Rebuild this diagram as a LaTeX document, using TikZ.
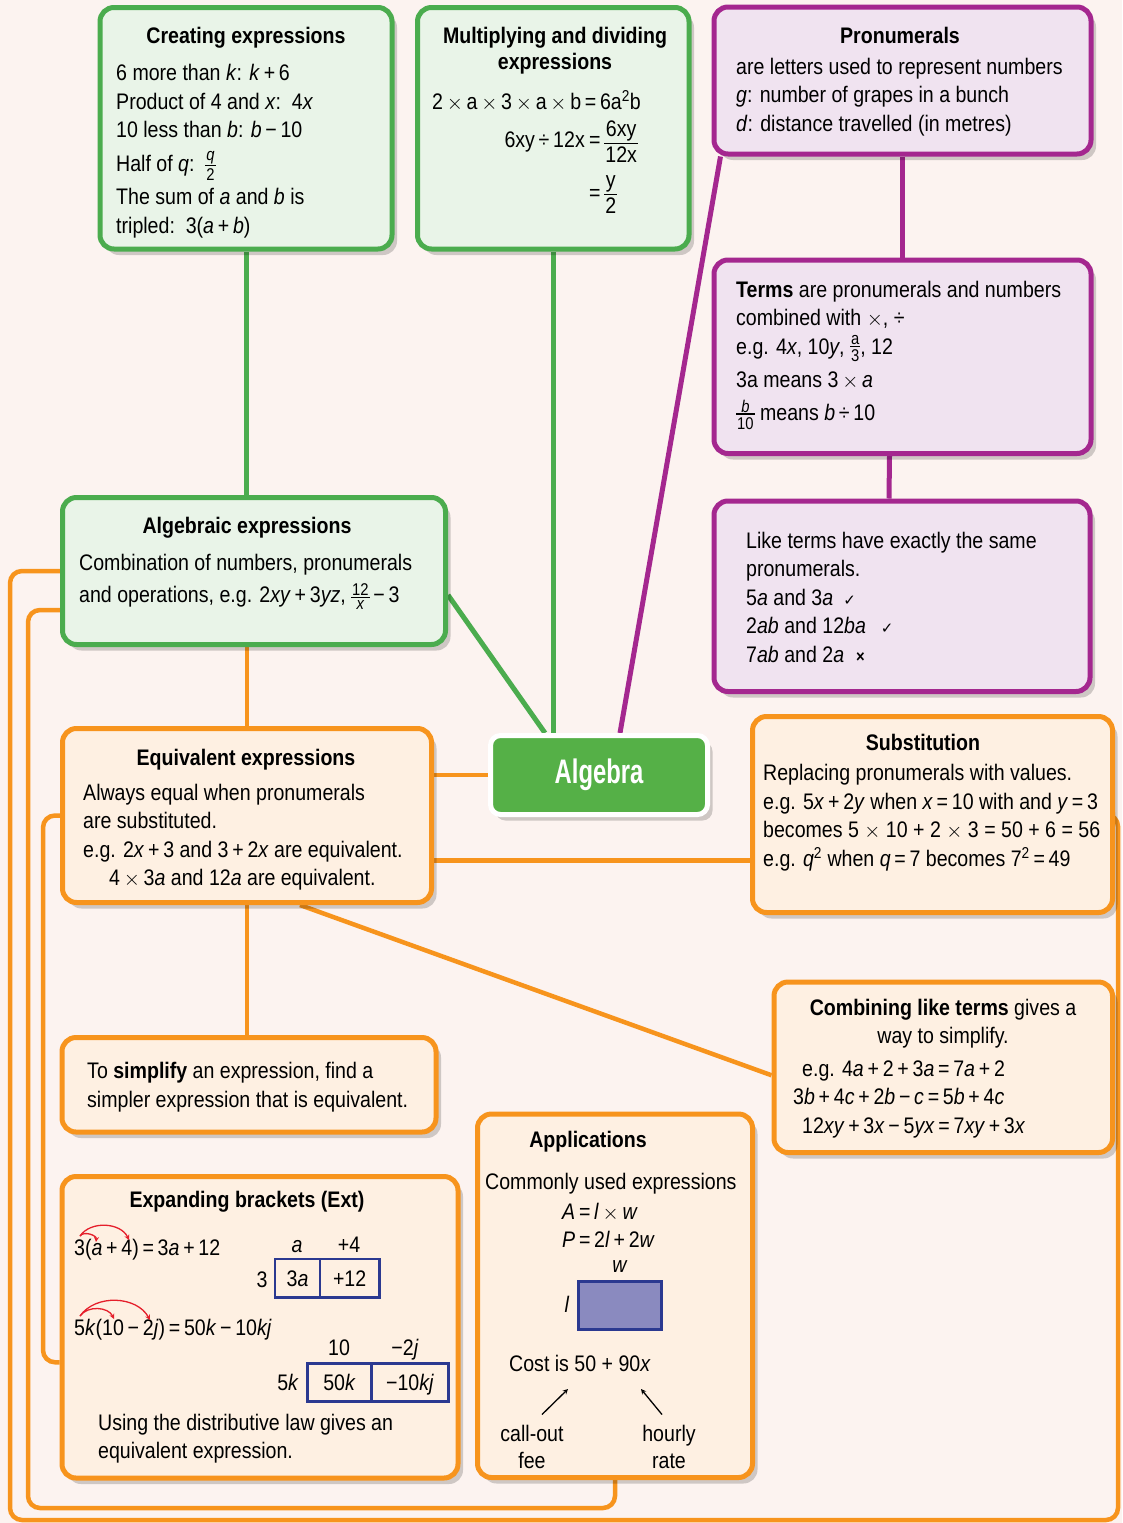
\documentclass[tikz,border=0pt]{standalone}
\usepackage{fontspec}
\setmainfont{Liberation Sans}[FakeStretch=0.87]
\newfontfamily\symfont{DejaVu Sans}
\newfontfamily\algfont{Liberation Sans}[FakeStretch=0.7]
\usetikzlibrary{shadows,backgrounds,arrows}

\definecolor{bgpink}{HTML}{FCF3F0}
\definecolor{grline}{HTML}{4BAC4E}
\definecolor{grfill}{HTML}{E9F4E8}
\definecolor{grdark}{HTML}{55B047}
\definecolor{puline}{HTML}{A4278F}
\definecolor{pufill}{HTML}{F0E3F0}
\definecolor{orline}{HTML}{F7941D}
\definecolor{orfill}{HTML}{FEF0E2}
\definecolor{cellblue}{HTML}{2B3990}
\definecolor{rectfill}{HTML}{8A8ABF}
\definecolor{arred}{HTML}{E51F2B}

\newcommand\pv[1]{\textit{#1}}
\newcommand\tm{\ensuremath{\times}}
\newcommand\frc[3][]{\ensuremath{\vcenter{#1\offinterlineskip
  \halign{\hfil\kern1pt##\kern1pt\hfil\cr#2\cr
  \noalign{\kern1pt\hrule height1.3pt\kern3pt}#3\cr}}}}
\newcommand\sfr[2]{\frc[\fontsize{17}{17}\selectfont]{#1}{#2}}

\tikzset{
  every node/.style={inner sep=0pt, font=\fontsize{22.5}{28.5}\selectfont},
  box/.style={rounded corners=14pt, line width=5pt, outer sep=2.5pt,
    anchor=north west,
    drop shadow={shadow xshift=5pt, shadow yshift=-6pt, fill=black, opacity=0.18}},
  gbox/.style={box, draw=grline, fill=grfill},
  pbox/.style={box, draw=puline, fill=pufill},
  obox/.style={box, draw=orline, fill=orfill},
  algbox/.style={box, draw=white, fill=grdark, text=white, rounded corners=10pt,
    font=\algfont\bfseries\fontsize{34}{40}\selectfont},
  title/.style={anchor=base, align=center,
    font=\fontsize{22.5}{27}\selectfont\bfseries},
  body/.style={anchor=base west, align=left},
  cell/.style={draw=cellblue, line width=2.5pt, outer sep=0pt,
    anchor=north west, text height=16pt, text depth=0pt},
  gline/.style={grline, line width=5pt},
  pline/.style={puline, line width=5pt},
  oline/.style={orline, line width=4.5pt},
  redarr/.style={arred, line width=1.3pt, ->},
  callarr/.style={black, line width=1.3pt, ->}
}

\begin{document}
\begin{tikzpicture}[x=1pt,y=-1pt,>=stealth]
    \useasboundingbox (0,0) rectangle (1122,1523);

    % Kästen
    \node[gbox, minimum width=292, minimum height=241.5] (create) at (97.5,5) {};
    \node[gbox, minimum width=271.5, minimum height=241.5] (mult) at (415,5) {};
    \node[pbox, minimum width=377, minimum height=147] (pron) at (711.5,4.5) {};
    \node[pbox, minimum width=377, minimum height=193.5] (terms) at (711.5,257.5) {};
    \node[pbox, minimum width=376, minimum height=190.5] (like) at (711.5,498.5) {};
    \node[gbox, minimum width=383, minimum height=147] (algexp) at (60,495) {};
    \node[obox, minimum width=369, minimum height=174] (equiv) at (60,726) {};
    \node[algbox, minimum width=217, minimum height=79] (alg) at (488,733) {Algebra};
    \node[obox, minimum width=360, minimum height=196] (subst) at (750,714) {};
    \node[obox, minimum width=338.5, minimum height=170.5] (comb) at (771.5,979.5) {};
    \node[obox, minimum width=374, minimum height=94.5] (simp) at (59.5,1035) {};
    \node[obox, minimum width=396, minimum height=301.5] (expand) at (59.5,1174) {};
    \node[obox, minimum width=275, minimum height=363.5] (apps) at (475,1111.5) {};

    % Creating expressions
    \node[title] (createT) at (246,43) {Creating expressions};
    \node[body] (createB) at (116,233) {6 more than \pv{k}: \pv{k}\,+\,6\\
        Product of 4 and \pv{x}:\ \ 4\pv{x}\\
        10 less than \pv{b}: \pv{b}\,−\,10\\[5pt]
        Half of \pv{q}:\ \ \sfr{\pv{q}}{2}\\[5pt]
        The sum of \pv{a} and \pv{b} is\\
        tripled:\ \ 3(\pv{a}\,+\,\pv{b})};

    % Multiplying and dividing
    \node[title] (multT) at (555,69) {Multiplying and dividing\\[-1.5pt]expressions};
    \node[body] (multA) at (432,109) {2\,\tm\,a\,\tm\,3\,\tm\,a\,\tm\,b\,=\,6a\textsuperscript{2}b};
    \node[anchor=base east] (multB) at (585,147) {6xy\,÷\,12x};
    \node[body] (multC) at (589,147) {=\,\frc{6xy}{12x}};
    \node[body] (multD) at (589,200) {=\,\frc{y}{2}};

    % Pronumerals
    \node[title] (pronT) at (900,43) {Pronumerals};
    \node[body] (pronB) at (736,131) {are letters used to represent numbers\\
        \pv{g}: number of grapes in a bunch\\
        \pv{d}: distance travelled (in metres)};

    % Terms
    \node[body] (termsB) at (736,420) {\textbf{Terms} are pronumerals and numbers\\
        combined with \tm, ÷\\
        e.g. 4\pv{x}, 10\pv{y}, \sfr{a}{3}, 12\\[4.5pt]
        3a means 3\,\tm\,\pv{a}\\[4.5pt]
        \sfr{\pv{b}}{10} means \pv{b}\,÷\,10};

    % Like terms
    \node[body] (likeB) at (746,662) {Like terms have exactly the same\\
        pronumerals.\\
        5\pv{a} and 3\pv{a}\hspace{10pt}{\symfont\fontsize{15}{15}\selectfont ✓}\\
        2\pv{ab} and 12\pv{ba}\hspace{15pt}{\symfont\fontsize{15}{15}\selectfont ✓}\\
        7\pv{ab} and 2\pv{a}\hspace{12pt}{\fontsize{17}{17}\selectfont\bfseries ×}};

    % Algebraic expressions
    \node[title] (algexpT) at (247,533) {Algebraic expressions};
    \node[body] (algexpB) at (79,602) {Combination of numbers, pronumerals\\[3.5pt]
        and operations, e.g. 2\pv{xy}\,+\,3\pv{yz},\ \sfr{12}{\pv{x}}\,−\,3};

    % Equivalent expressions
    \node[title] (equivT) at (246,765) {Equivalent expressions};
    \node[body] (equivB) at (83,885.5) {Always equal when pronumerals\\
        are substituted.\\
        e.g. 2\pv{x}\,+\,3 and 3\,+\,2\pv{x} are equivalent.\\
        \hspace*{26pt}4\,\tm\,3\pv{a} and 12\pv{a} are equivalent.};

    % Substitution
    \node[title] (substT) at (923,750) {Substitution};
    \node[body] (substB) at (763,866) {Replacing pronumerals with values.\\
        e.g. 5\pv{x}\,+\,2\pv{y} when \pv{x}\,=\,10 with and \pv{y}\,=\,3\\
        becomes 5 \tm\ 10 + 2 \tm\ 3 = 50 + 6 = 56\\
        e.g. \pv{q}\textsuperscript{2} when \pv{q}\,=\,7 becomes 7\textsuperscript{2}\,=\,49};

    % Combining like terms
    \node[anchor=base, align=center] (combT) at (943,1043)
        {\textbf{Combining like terms} gives a\\[-1pt]way to simplify.};
    \node[body] (combB) at (793,1133)
        {\hspace*{9pt}e.g. 4\pv{a}\,+\,2\,+\,3\pv{a}\,=\,7\pv{a}\,+\,2\\
        3\pv{b}\,+\,4\pv{c}\,+\,2\pv{b}\,−\,\pv{c}\,=\,5\pv{b}\,+\,4\pv{c}\\
        \hspace*{9pt}12\pv{xy}\,+\,3\pv{x}\,−\,5\pv{yx}\,=\,7\pv{xy}\,+\,3\pv{x}};

    % simplify
    \node[body] (simpB) at (87,1107) {To \textbf{simplify} an expression, find a\\
        simpler expression that is equivalent.};

    % Expanding brackets
    \node[title] (expandT) at (247,1207) {Expanding brackets (Ext)};
    \node[body] (expA) at (74,1255) {3(\pv{a}\,+\,4)\,=\,3\pv{a}\,+\,12};
    \draw[redarr] (80,1236) to[bend left=75] (96,1242);
    \draw[redarr] (80,1236) to[bend left=60] (129,1240);
    \node[anchor=base] (labA1) at (297,1252) {\pv{a}};
    \node[anchor=base] (labA2) at (349,1252) {+4};
    \node[anchor=base] (labA0) at (262,1287) {3};
    \node[cell, minimum width=45, minimum height=38.7] (cA1) at (275,1259) {3\pv{a}};
    \node[cell, minimum width=59.3, minimum height=38.7] (cA2) at (cA1.north east) {+12};

    \node[body] (expB) at (74,1335) {5\pv{k}(10\,−\,2\pv{j})\,=\,50\pv{k}\,−\,10\pv{kj}};
    \draw[redarr] (80,1316) to[bend left=60] (114,1319);
    \draw[redarr] (80,1316) to[bend left=58] (150,1320);
    \node[anchor=base] (labB1) at (339,1355) {10};
    \node[anchor=base] (labB2) at (405,1355) {−2\pv{j}};
    \node[anchor=base] (labB0) at (288,1390) {5\pv{k}};
    \node[cell, minimum width=64.4, minimum height=38.4] (cB1) at (307.3,1363.3) {50\pv{k}};
    \node[cell, minimum width=76.6, minimum height=38.4] (cB2) at (cB1.north east) {−10\pv{kj}};

    \node[body] (expC) at (98,1458) {Using the distributive law gives an\\[-0.5pt]
        equivalent expression.};

    % Applications
    \node[title] (appsT) at (588,1147) {Applications};
    \node[body] (appsA) at (485,1189) {Commonly used expressions};
    \node[body] (appsB) at (562,1247) {\pv{A}\,=\,\pv{l}\,\tm\,\pv{w}\\[-0.5pt]
        \pv{P}\,=\,2\pv{l}\,+\,2\pv{w}};
    \node[draw=cellblue, fill=rectfill, line width=2.5pt, outer sep=0pt,
        anchor=north west, minimum width=83.4, minimum height=47.6] (rect) at (578.3,1281.7) {};
    \node[anchor=base] (wlab) at (620,1272) {\pv{w}};
    \node[anchor=base] (llab) at (567,1312) {\pv{l}};
    \node[body] (cost) at (509,1371) {Cost is 50 + 90\pv{x}};
    \node[anchor=base, align=center] (callout) at (532,1468) {call-out\\[-1.5pt]fee};
    \node[anchor=base, align=center] (hourly) at (669,1468) {hourly\\[-1.5pt]rate};
    \draw[callarr] ([shift={(10,-10)}]callout.north) -- ([shift={(59,18)}]cost.base west);
    \draw[callarr] ([shift={(-7,-10)}]hourly.north) -- ([shift={(132,18)}]cost.base west);

    % Verbindungen
    \begin{pgfonlayer}{background}
    \fill[bgpink] (0,0) rectangle (1122,1523);
    \draw[gline] (create.south) -- (create.south |- algexp.north);
    \draw[gline] (mult.south) -- (mult.south |- alg.north);
    \draw[gline] ([yshift=-24pt]algexp.east) -- ([xshift=-54pt]alg.north);
    \draw[pline] ([xshift=9pt]pron.south west) -- ([xshift=21pt]alg.north);
    \draw[pline] (pron.south) -- (terms.north);
    \draw[pline] ([xshift=-13pt]terms.south) -- ([xshift=-13pt]like.north);
    \draw[oline] (equiv.north) -- (equiv.north |- algexp.south);
    \draw[oline] (alg.west) -- (alg.west -| equiv.east);
    \draw[oline] ([yshift=-45pt]equiv.east) -- ([yshift=-45pt]equiv.east -| subst.west);
    \draw[oline] ([xshift=53pt]equiv.south) -- ([yshift=-8pt]comb.west);
    \draw[oline] (equiv.south) -- (equiv.south |- simp.north);
    \draw[oline, rounded corners=12pt] (algexp.west) -- ++(-50,0) |- (1118,1520) |- (subst.east);
    \draw[oline, rounded corners=12pt] ([yshift=-39pt]algexp.west) -- ++(-32,0)
        |- (apps.south |- 0,1508) -- (apps.south);
    \draw[oline, rounded corners=12pt] (equiv.west) -- ++(-17,0) |- ([yshift=-35pt]expand.west);
    \end{pgfonlayer}
\end{tikzpicture}
\end{document}
